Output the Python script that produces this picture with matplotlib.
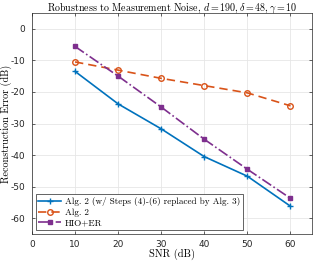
import matplotlib
matplotlib.use("Agg")
import matplotlib.pyplot as plt

snr = [10, 20, 30, 40, 50, 60]
alg2_steps = [-13.5, -23.8, -31.7, -40.5, -46.7, -56.2]
alg2 = [-10.5, -13.1, -15.7, -18.0, -20.3, -24.4]
hio_er = [-5.6, -15.0, -24.8, -35.0, -44.5, -53.7]
labels = ["Alg. 2 (w/ Steps (4)-(6) replaced by Alg. 3)", "Alg. 2", "HIO+ER"]
xticks = [0, 10, 20, 30, 40, 50, 60]
yticks = [0, -10, -20, -30, -40, -50, -60]

plt.rcParams['mathtext.fontset'] = 'cm'
plt.rcParams['axes.unicode_minus'] = False
serif = 'cmr10'

fig = plt.figure(figsize=(3.18, 2.66), dpi=100)
ax = fig.add_axes([32/318, 1-234/266, 280/318, 221/266])

ax.plot(snr, alg2_steps, color='#0072BD', marker='+', markersize=4, lw=1.2, label=labels[0])
ax.plot(snr, alg2, color='#D95319', marker='o', markersize=4, mfc='none', lw=1.2, ls=(0, (5, 3)), label=labels[1])
ax.plot(snr, hio_er, color='#7E2F8E', marker='s', markersize=3.5, lw=1.2, ls='-.', label=labels[2])

ax.set_xlim(0, 65)
ax.set_ylim(-65, 5)
ax.set_xticks(xticks)
ax.set_yticks(yticks)
ax.grid(True, color='#e6e6e6', lw=0.6)
ax.set_axisbelow(True)
ax.tick_params(labelsize=6.5, colors='#262626', length=2, width=0.5, direction='in', top=True, right=True)
ax.tick_params(axis='y', pad=5)
ax.tick_params(axis='x', pad=4)
for s in ax.spines.values():
    s.set_color('#262626')
    s.set_linewidth(0.5)

ax.set_title(r'Robustness to Measurement Noise, $d=190, \delta=48, \gamma=10$',
             fontsize=7.2, fontfamily=serif, pad=2)
ax.set_xlabel('SNR (dB)', fontsize=7.5, fontfamily=serif, labelpad=0)
ax.set_ylabel('Reconstruction Error (dB)', fontsize=7.3, fontfamily=serif)
ax.yaxis.set_label_coords(-0.072, 0.5)

leg = ax.legend(loc='lower left', prop={'family': serif, 'size': 6.6},
                frameon=True, fancybox=False, edgecolor='#262626', framealpha=1,
                handlelength=2.5, borderpad=0.3, labelspacing=0.25, handletextpad=0.4,
                borderaxespad=0.4)
leg.get_frame().set_linewidth(0.5)

fig.savefig('out.png', dpi=100)
